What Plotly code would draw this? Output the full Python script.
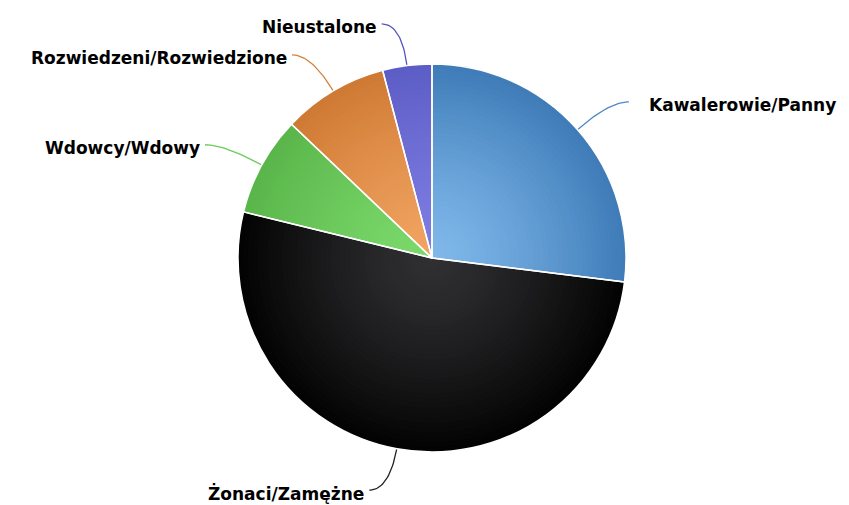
import math
import plotly.graph_objects as go

W, H = 849, 505
OFF = 8  # browser body margin

# ---- data ----
categories = ["Kawalerowie/Panny", "Żonaci/Zamężne", "Wdowcy/Wdowy",
              "Rozwiedzeni/Rozwiedzione", "Nieustalone"]
values = [27.0, 51.9, 8.3, 8.8, 4.1]

# ---- style ----
inner_colors = ["#80b8ea", "#303033", "#7cda6c", "#f2a462", "#7d7de2"]
outer_colors = ["#3f7cb8", "#030303", "#5ab64a", "#cf7a34", "#5d5dc6"]
line_colors = ["#4f8ac6", "#222222", "#6acb5a", "#d5813c", "#5555bb"]
CX, CY, R = 432 - OFF, 258 - OFF, 194
FW, FH = W - OFF, H - OFF
N_RINGS = 40
FONT = dict(family="DejaVu Sans", size=17, color="#000000", weight="bold")


def hex2rgb(h):
    h = h.lstrip("#")
    return tuple(int(h[i:i + 2], 16) for i in (0, 2, 4))


def lerp(c1, c2, t):
    a, b = hex2rgb(c1), hex2rgb(c2)
    return "rgb(%d,%d,%d)" % tuple(round(a[i] + (b[i] - a[i]) * t) for i in range(3))


def dom(r):
    return dict(x=[(CX - r) / FW, (CX + r) / FW],
                y=[(FH - CY - r) / FH, (FH - CY + r) / FH])


fig = go.Figure()

# radial gradient approximated by stacked pies of shrinking radius
for k in range(N_RINGS):
    frac = 1.0 - k / N_RINGS
    t = frac ** 1.3
    cols = [lerp(i, o, t) for i, o in zip(inner_colors, outer_colors)]
    fig.add_trace(go.Pie(
        labels=categories, values=values, sort=False, direction="clockwise",
        rotation=0, textinfo="none", hoverinfo="skip" if k else "label+percent",
        marker=dict(colors=cols, line=dict(width=0)),
        domain=dom(R * frac), showlegend=False))

# white separators
fig.add_trace(go.Pie(
    labels=categories, values=values, sort=False, direction="clockwise",
    rotation=0, textinfo="none", hoverinfo="skip",
    marker=dict(colors=["rgba(0,0,0,0)"] * len(values),
                line=dict(color="white", width=1.5)),
    domain=dom(R), showlegend=False))

# connectors and labels computed from the slice mid-angles
total = sum(values)
cum = 0.0
annotations = []
for cat, v, lc in zip(categories, values, line_colors):
    mid = (cum + v / 2) / total * 2 * math.pi
    cum += v
    dx, dy = math.sin(mid), -math.cos(mid)
    sign = 1 if dx >= 0 else -1
    p0 = (CX + (R - 2) * dx, CY + (R - 2) * dy)
    p1 = (CX + (R + 42) * dx, CY + (R + 42) * dy)
    p2 = (p1[0] + sign * 20, p1[1])
    xs, ys = [], []
    for i in range(25):
        s = i / 24
        xs.append((1 - s) ** 2 * p0[0] + 2 * (1 - s) * s * p1[0] + s ** 2 * p2[0])
        ys.append((1 - s) ** 2 * p0[1] + 2 * (1 - s) * s * p1[1] + s ** 2 * p2[1])
    fig.add_trace(go.Scatter(x=xs, y=ys, mode="lines", hoverinfo="skip",
                             line=dict(color=lc, width=1.3), showlegend=False))
    gap = 18 if sign > 0 else 3
    annotations.append(dict(
        x=p2[0] + sign * gap, y=p2[1] + 3, xref="x", yref="y", text=cat,
        showarrow=False, xanchor="left" if sign > 0 else "right",
        yanchor="middle", font=FONT))

fig.update_layout(
    width=FW, height=FH, margin=dict(l=0, r=0, t=0, b=0),
    paper_bgcolor="white", plot_bgcolor="rgba(0,0,0,0)",
    xaxis=dict(range=[0, FW], visible=False, fixedrange=True),
    yaxis=dict(range=[FH, 0], visible=False, fixedrange=True),
    annotations=annotations,
)

fig.write_html("out.html")
